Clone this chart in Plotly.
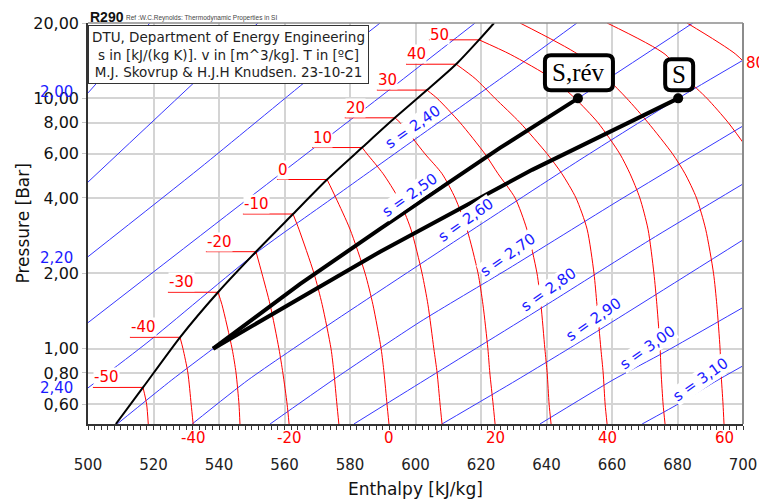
import numpy as np
import plotly.graph_objects as go

# saturated vapour line (temperature, pressure [bar], enthalpy [kJ/kg])
SAT_T = [-50, -40, -30, -20, -10, 0, 10, 20, 30, 40, 50]
SAT_P = [0.70, 1.11, 1.68, 2.44, 3.45, 4.74, 6.36, 8.36, 10.79, 13.69, 17.13]
SAT_H = [516.8, 528.1, 539.7, 551.3, 562.6, 573.0, 583.7, 593.7, 603.5, 612.4, 619.4]
SAT_END_H = [508.5, 624.0]          # where the vapour line leaves the chart
SAT_END_P = [0.5, 20.0]
LABEL_DH = 15.3                     # length of the little label tick left of each sat point

# isotherms in the superheated region, h at fixed pressure levels
ISO_T = [-50, -40, -30, -20, -10, 0, 10, 20, 30, 40, 50, 60, 70, 80]
P_LEVELS = [20, 15, 12, 10, 8, 6, 5, 4, 3, 2, 1.5, 1.0, 0.8, 0.6, 0.5]
N = None
ISO_H = [
    [N] * 13 + [517.9, 518.4],
    [N] * 11 + [529.0, 530.5, 531.5, 532.1],
    [N] * 10 + [540.9, 544.0, 545.2, 546.1, 546.4],
    [N] * 9 + [553.1, 555.6, 558.3, 559.5, 560.8, 561.4],
    [N] * 8 + [564.4, 569.0, 571.5, 574.2, 575.1, 576.0, 576.6],
    [N] * 7 + [575.7, 580.0, 584.6, 587.0, 589.5, 590.4, 591.3, 591.9],
    [N] * 5 + [585.2, 590.1, 594.7, 598.6, 602.0, 603.8, 605.6, 606.6, 607.5, 608.1],
    [N] * 4 + [595.3, 602.9, 608.1, 612.1, 615.7, 619.1, 620.6, 622.1, 622.7, 623.7, 624.3],
    [N] * 3 + [606.6, 613.6, 621.2, 625.2, 630.4, 634.0, 637.1, 638.3, 639.5, 640.2, 640.8, 641.4],
    [N] * 2 + [618.2, 624.3, 631.9, 640.2, 644.7, 649.0, 652.4, 654.5, 655.4, 656.6, 657.3, 657.9, 658.5],
    [N] + [628.9, 641.7, 648.7, 655.7, 662.4, 665.5, 668.5, 671.0, 672.8, 673.7, 674.7, 675.0, 675.6, 676.2],
    [631.9, 649.6, 658.5, 664.5, 671.0, 678.5, 682.3, 685.8, 688.6, 691.0, 692.0, 693.0, 693.3, 693.9, 694.2],
    [658.5, 676.2, 682.7, 689.0, 695.5, 702.5] + [N] * 9,
    [682.9, 697.8, 705.0] + [N] * 12,
]
BOTTOM_LABEL_T = [-40, -20, 0, 20, 40, 60]

# isentropes s [kJ/(kg K)]
S_VALS = [2.00, 2.10, 2.20, 2.30, 2.40, 2.50, 2.60, 2.70, 2.80, 2.90, 3.00, 3.10]
S_H = [
    [500.0, 518.9],
    [500.0, 533.9, 551.9],
    [500.0, 534.2, 567.8, 589.2],
    [500.0, 544.9, 589.2, 618.2],
    [500.0, 518.0, 551.3, 576.9, 602.6, 627.9, 649.3],
    [508.9, 525.6, 538.2, 564.7, 589.2, 616.0, 625.8, 649.6, 684.7],
    [531.8, 548.9, 573.9, 615.4, 650.2, 680.2, 700.0],
    [555.6, 574.8, 601.4, 628.2, 662.4, 700.0],
    [581.2, 602.9, 640.5, 671.6, 700.0],
    [608.1, 631.0, 654.2, 700.0],
    [638.0, 660.3, 676.2, 700.0],
    [669.2, 681.4, 691.4, 700.0],
]
S_P = [
    [10.51, 20.0],
    [4.63, 12.06, 20.0],
    [2.33, 5.27, 12.06, 20.0],
    [1.27, 3.62, 10.13, 20.0],
    [0.697, 1.055, 2.41, 4.19, 7.28, 12.5, 20.0],
    [0.5, 0.75, 1.0, 1.81, 3.01, 5.18, 6.34, 10.0, 20.0],
    [0.5, 0.75, 1.256, 2.87, 5.68, 10.0, 14.2],
    [0.5, 0.75, 1.28, 2.08, 3.93, 7.76],
    [0.5, 0.75, 1.51, 2.72, 4.55],
    [0.5, 0.75, 1.146, 2.72],
    [0.5, 0.75, 0.971, 1.46],
    [0.5, 0.613, 0.737, 0.854],
]
S_LEFT_LABELS = ["2,00", "2,20", "2,40"]
S_LEFT_P = [10.6, 2.30, 0.697]

# compression 1 bar -> 10 bar: reversible (S,rév) and real (S)
REV_H = [538.2, 564.7, 589.2, 616.0, 625.8, 649.6]
REV_P = [1.0, 1.81, 3.01, 5.18, 6.34, 10.0]
REAL_H = [538.2, 589.2, 635.6, 680.2]
REAL_P = [1.0, 2.44, 5.18, 10.0]

X_TICKS = list(range(500, 701, 20))
Y_TICKS = [0.6, 0.8, 1.0, 2.0, 4.0, 6.0, 8.0, 10.0, 20.0]
Y_TICKTEXT = ["0,60", "0,80", "1,00", "2,00", "4,00", "6,00", "8,00", "10,00", "20,00"]

# ── layout constants ─────────────────────────────────────────────────────────
# the page body keeps its default 8 px margin, so the figure is 8 px smaller
W, H = 759, 491
ML, MR, MT, MB = 80, 24, 15, 75
PW, PH = W - ML - MR, H - MT - MB
XR = [500, 700]
YR = [np.log10(0.5), np.log10(20)]
FONT = "DejaVu Sans"
RED = "#ff0000"
BLUE = "rgb(55,55,255)"

fig = go.Figure()

# isentropes
for hs, ps in zip(S_H, S_P):
    fig.add_trace(go.Scatter(
        x=hs, y=ps, mode="lines", hoverinfo="skip",
        line=dict(color=BLUE, width=1, shape="spline", smoothing=0.6),
    ))

# label ticks of the isotherms at the vapour line
seg_x, seg_y = [], []
for h, p in zip(SAT_H, SAT_P):
    seg_x += [h - LABEL_DH, h, None]
    seg_y += [p, p, None]
fig.add_trace(go.Scatter(x=seg_x, y=seg_y, mode="lines", hoverinfo="skip",
                         line=dict(color=RED, width=1)))

# isotherms
for t, row in zip(ISO_T, ISO_H):
    hs = [h for h in row if h is not None]
    ps = [p for p, h in zip(P_LEVELS, row) if h is not None]
    if t in SAT_T:
        i = SAT_T.index(t)
        hs = [SAT_H[i]] + hs
        ps = [SAT_P[i]] + ps
    fig.add_trace(go.Scatter(
        x=hs, y=ps, mode="lines", hoverinfo="skip",
        line=dict(color=RED, width=1, shape="spline", smoothing=0.7),
    ))

# saturated vapour line
fig.add_trace(go.Scatter(
    x=[SAT_END_H[0]] + SAT_H + [SAT_END_H[1]],
    y=[SAT_END_P[0]] + SAT_P + [SAT_END_P[1]],
    mode="lines", hoverinfo="skip",
    line=dict(color="black", width=2, shape="spline", smoothing=0.6),
))

# compression lines
for hs, ps in [(REV_H, REV_P), (REAL_H, REAL_P)]:
    fig.add_trace(go.Scatter(x=hs, y=ps, mode="lines", hoverinfo="skip",
                             line=dict(color="black", width=4)))
fig.add_trace(go.Scatter(x=[REV_H[-1], REAL_H[-1]], y=[REV_P[-1], REAL_P[-1]],
                         mode="markers", hoverinfo="skip",
                         marker=dict(color="black", size=10)))

ann = []

# temperature labels on the vapour line
for t, h, p in zip(SAT_T, SAT_H, SAT_P):
    ann.append(dict(
        x=h - LABEL_DH, y=np.log10(p), text=str(t), showarrow=False,
        xanchor="left", yanchor="bottom", yshift=-5 if t == 50 else 0,
        bgcolor="white", borderpad=0, font=dict(family=FONT, size=15, color=RED),
    ))
# temperature labels under the x axis
for t in BOTTOM_LABEL_T:
    row = ISO_H[ISO_T.index(t)]
    ann.append(dict(
        x=row[-1], y=0, yref="paper", text=str(t), showarrow=False,
        xanchor="center", yanchor="top", yshift=-3,
        font=dict(family=FONT, size=15, color=RED),
    ))
ann.append(dict(
    x=1, xref="paper", y=np.log10(13.9), text="80", showarrow=False,
    xanchor="left", xshift=1, font=dict(family=FONT, size=15, color=RED),
))

# isentrope labels inside the chart
s_label_pos = [(599.2, 7.69), (598.3, 4.11), (615.4, 3.27), (628.2, 2.37),
               (640.5, 1.717), (654.2, 1.303), (670.7, 1.007), (686.9, 0.750)]
for s, (h, p) in zip(S_VALS[4:], s_label_pos):
    ann.append(dict(
        x=h, y=np.log10(p), text=f"s = {s:.2f}".replace(".", ","), showarrow=False,
        textangle=-35, bgcolor="white", borderpad=0,
        font=dict(family=FONT, size=15, color="#1a1aff"),
    ))
for txt, p in zip(S_LEFT_LABELS, S_LEFT_P):
    ann.append(dict(
        x=0, xref="paper", y=np.log10(p), text=txt, showarrow=False,
        xanchor="right", xshift=-13, font=dict(family=FONT, size=15, color="#1a1aff"),
    ))

# info box, title and axis titles
ann.append(dict(
    x=0, xref="paper", y=1 - 2 / PH, yref="paper", xanchor="left", yanchor="top",
    text="DTU, Department of Energy Engineering<br>"
         "s in [kJ/(kg K)]. v in [m^3/kg]. T in [ºC]<br>"
         "M.J. Skovrup & H.J.H Knudsen. 23-10-21",
    showarrow=False, align="center", bgcolor="white", bordercolor="#333",
    borderwidth=1, borderpad=3, font=dict(family=FONT, size=13.5, color="#222"),
))
ann.append(dict(
    x=0, xref="paper", y=1, yref="paper", xanchor="left", yanchor="bottom", yshift=-4,
    text="<b>R290</b>", showarrow=False,
    font=dict(family="Liberation Sans", size=14, color="#111"),
))
ann.append(dict(
    x=36 / PW, xref="paper", y=1, yref="paper", xanchor="left", yanchor="bottom", yshift=-1,
    text="Ref :W.C.Reynolds: Thermodynamic Properties in SI", showarrow=False,
    font=dict(family="Liberation Sans", size=6.5, color="#444"),
))
ann.append(dict(
    x=0.5, xref="paper", y=0, yref="paper", xanchor="center", yanchor="middle", yshift=-65,
    text="Enthalpy [kJ/kg]", showarrow=False, font=dict(family=FONT, size=17, color="#111"),
))
ann.append(dict(
    x=0, xref="paper", y=0.5, yref="paper", xanchor="center", yanchor="middle",
    xshift=-66, textangle=-90, text="Pressure [Bar]", showarrow=False,
    font=dict(family=FONT, size=17, color="#111"),
))


# rounded label boxes above the two end points
def to_px(h, p):
    return ((h - XR[0]) / (XR[1] - XR[0]) * PW,
            (np.log10(p) - YR[0]) / (YR[1] - YR[0]) * PH)


def rounded_box(cx, cy, w, h, r):
    l, rt, b, t = cx - w / 2, cx + w / 2, cy - h / 2, cy + h / 2
    pts = [("M", l + r, b), ("L", rt - r, b), ("Q", rt, b, rt, b + r),
           ("L", rt, t - r), ("Q", rt, t, rt - r, t), ("L", l + r, t),
           ("Q", l, t, l, t - r), ("L", l, b + r), ("Q", l, b, l + r, b)]
    out = []
    for cmd, *xy in pts:
        c = " ".join(f"{xy[k] / PW:.5f},{xy[k + 1] / PH:.5f}" for k in range(0, len(xy), 2))
        out.append(f"{cmd}{c}")
    return " ".join(out) + " Z"


shapes = []
for (h, p), txt, dy, bw, bh in [((REV_H[-1], REV_P[-1]), "S,rév", 25.5, 68, 35),
                                 ((REAL_H[-1], REAL_P[-1]), "S", 23.5, 28, 31)]:
    px, py = to_px(h, p)
    shapes.append(dict(type="path", xref="paper", yref="paper",
                       path=rounded_box(px + 1, py + dy, bw, bh, 6),
                       line=dict(color="black", width=4), fillcolor="white", layer="above"))
    ann.append(dict(x=h, y=np.log10(p), text=txt, showarrow=False, xshift=1, yshift=dy,
                    font=dict(family="Liberation Serif", size=25, color="black")))

# lighter top / right frame
shapes.append(dict(type="line", xref="paper", yref="paper", x0=0, x1=1, y0=1, y1=1,
                   line=dict(color="#8c8c8c", width=1.5)))
shapes.append(dict(type="line", xref="paper", yref="paper", x0=1, x1=1, y0=0, y1=1,
                   line=dict(color="#8c8c8c", width=2)))

fig.update_layout(
    width=W, height=H,
    margin=dict(l=ML, r=MR, t=MT, b=MB, autoexpand=False),
    paper_bgcolor="white", plot_bgcolor="white",
    showlegend=False, hovermode=False,
    annotations=ann, shapes=shapes,
    xaxis=dict(
        range=XR, tickmode="array", tickvals=X_TICKS, ticktext=[str(v) for v in X_TICKS],
        showgrid=True, gridcolor="#d4d4d4", gridwidth=1.5, zeroline=False, automargin=False,
        ticks="outside", ticklen=4, tickcolor="#333", ticklabelstandoff=22,
        minor=dict(tick0=500, dtick=2, ticks="outside", ticklen=4, tickcolor="#333"),
        showline=True, linecolor="#333", linewidth=1.5,
        tickfont=dict(family=FONT, size=15, color="#222"),
    ),
    yaxis=dict(
        type="log", range=YR, tickvals=Y_TICKS, ticktext=Y_TICKTEXT, automargin=False,
        showgrid=True, gridcolor="#d4d4d4", gridwidth=1.5, zeroline=False,
        ticks="outside", ticklen=4, tickcolor="#c8c8c8",
        showline=True, linecolor="#333", linewidth=1.5,
        tickfont=dict(family=FONT, size=16, color="#111"),
    ),
)

fig.write_html("out.html")
